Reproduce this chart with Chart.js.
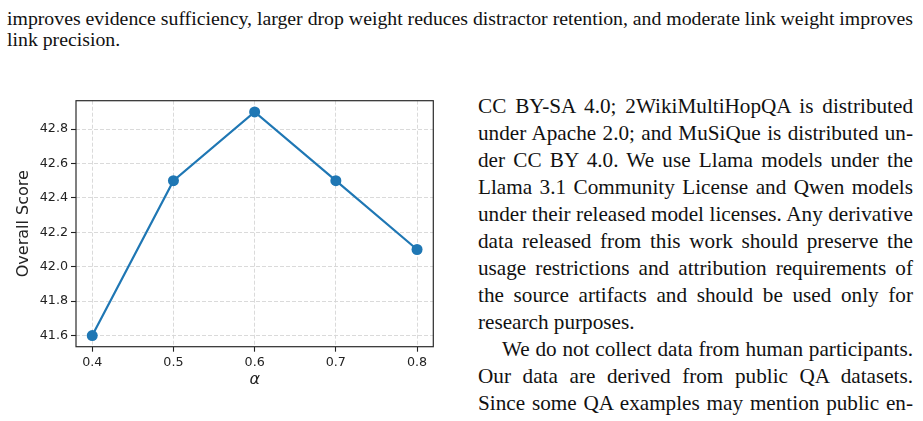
<!DOCTYPE html>
<html>
<head>
<meta charset="utf-8">
<script src="https://cdn.jsdelivr.net/npm/chart.js@4.4.1/dist/chart.umd.min.js"></script>
<style>
  html, body { margin: 0; padding: 0; background: #fff; }
  body { width: 923px; height: 421px; position: relative; overflow: hidden; }
  .txt { position: absolute; font-family: "Liberation Serif", "Times New Roman", serif; color: #111; transform-origin: 0 0; }
  .txt div { white-space: nowrap; }
  .txt div.j { text-align: justify; text-align-last: justify; }
  #top { left: 7px; top: 8px; font-size: 19.8px; line-height: 20.7px; }
  #side { left: 478px; top: 92.5px; font-size: 21.2px; line-height: 27px; }
  #chartBox { position: absolute; left: 0; top: 90px; width: 440px; height: 310px; }
</style>
</head>
<body>
<div id="top" class="txt" data-w="906">
  <div class="j">improves evidence sufficiency, larger drop weight reduces distractor retention, and moderate link weight improves</div>
  <div>link precision.</div>
</div>

<div id="side" class="txt" data-w="435">
  <div class="j">CC BY-SA 4.0; 2WikiMultiHopQA is distributed</div>
  <div class="j">under Apache 2.0; and MuSiQue is distributed un-</div>
  <div class="j">der CC BY 4.0. We use Llama models under the</div>
  <div class="j">Llama 3.1 Community License and Qwen models</div>
  <div class="j">under their released model licenses. Any derivative</div>
  <div class="j">data released from this work should preserve the</div>
  <div class="j">usage restrictions and attribution requirements of</div>
  <div class="j">the source artifacts and should be used only for</div>
  <div>research purposes.</div>
  <div class="j" style="text-indent: 24px;">We do not collect data from human participants.</div>
  <div class="j">Our data are derived from public QA datasets.</div>
  <div class="j">Since some QA examples may mention public en-</div>
</div>

<div id="chartBox"><canvas id="chart" width="440" height="310"></canvas></div>

<script>
const alphaValues = [0.4, 0.5, 0.6, 0.7, 0.8];
const overallScores = [41.6, 42.5, 42.9, 42.5, 42.1];
const xTickValues = [0.4, 0.5, 0.6, 0.7, 0.8];
const yTickValues = [41.6, 41.8, 42.0, 42.2, 42.4, 42.6, 42.8];

// squeeze the paper text so justified lines fit their column
document.querySelectorAll('.txt').forEach((block) => {
    const target = parseFloat(block.dataset.w);
    let widest = 0;
    block.querySelectorAll('div.j').forEach((line) => {
        const probe = document.createElement('span');
        probe.textContent = line.textContent;
        probe.style.whiteSpace = 'nowrap';
        probe.style.paddingLeft = line.style.textIndent || '0';
        line.parentNode.appendChild(probe);
        widest = Math.max(widest, probe.getBoundingClientRect().width);
        probe.remove();
    });
    const sx = Math.min(1, target / widest);
    block.style.width = (target / sx) + 'px';
    block.style.transform = `scaleX(${sx})`;
});

const tickFont = { family: 'DejaVu Sans', size: 12.7 };
const gridOpts = {
    color: '#d6d6d6',
    lineWidth: 0.9,
    tickColor: '#222',
    tickLength: 5,
    tickWidth: 1.1,
};

const framePlugin = {
    id: 'frame',
    afterDraw(chart) {
        const { ctx, chartArea: a } = chart;
        ctx.save();
        ctx.strokeStyle = '#2b2b2b';
        ctx.lineWidth = 1.2;
        ctx.strokeRect(a.left, a.top, a.right - a.left, a.bottom - a.top);
        ctx.restore();
    },
};

new Chart(document.getElementById('chart'), {
    type: 'line',
    data: {
        datasets: [
            {
                data: alphaValues.map((a, i) => ({ x: a, y: overallScores[i] })),
                borderColor: '#1f77b4',
                backgroundColor: '#1f77b4',
                borderWidth: 2.2,
                pointRadius: 5.5,
                pointBorderWidth: 0,
                tension: 0,
            },
        ],
    },
    options: {
        responsive: false,
        animation: false,
        layout: { padding: { top: 10.7, right: 6.7, left: 0, bottom: 0 } },
        plugins: { legend: { display: false }, tooltip: { enabled: false } },
        scales: {
            x: {
                type: 'linear',
                min: 0.38,
                max: 0.82,
                afterBuildTicks: (axis) => { axis.ticks = xTickValues.map((v) => ({ value: v })); },
                afterFit: (axis) => { axis.height = 53.3; },
                ticks: { font: tickFont, color: '#222', padding: 3, maxRotation: 0, callback: (v) => v.toFixed(1) },
                grid: gridOpts,
                border: { display: false, dash: [4, 2] },
                title: {
                    display: true,
                    text: 'α',
                    font: { family: 'DejaVu Sans', size: 16, style: 'italic' },
                    color: '#222',
                    padding: { top: 0, bottom: 10.4 },
                },
            },
            y: {
                min: 41.535,
                max: 42.965,
                afterBuildTicks: (axis) => { axis.ticks = yTickValues.map((v) => ({ value: v })); },
                afterFit: (axis) => { axis.width = 76; },
                ticks: { font: tickFont, color: '#222', padding: 3, callback: (v) => v.toFixed(1) },
                grid: gridOpts,
                border: { display: false, dash: [4, 2] },
                title: {
                    display: true,
                    text: 'Overall Score',
                    font: { family: 'DejaVu Sans', size: 16 },
                    color: '#222',
                    padding: { top: 14.4, bottom: 0 },
                },
            },
        },
    },
    plugins: [framePlugin],
});
</script>
</body>
</html>
